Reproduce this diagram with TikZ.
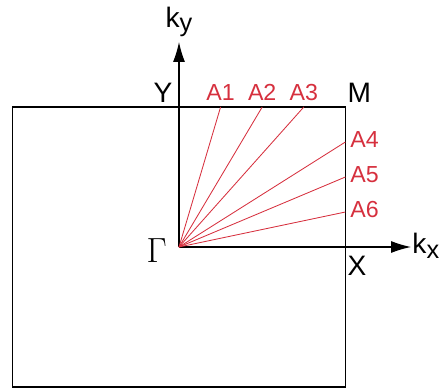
\documentclass[tikz,border=0pt]{standalone}
\usepackage{fontspec}
\setmainfont{Liberation Sans}
\usetikzlibrary{arrows.meta,positioning}
\definecolor{pathred}{RGB}{214,48,62}
\newcommand{\kvec}[1]{k\raisebox{-0.15em}{\fontsize{18}{20}\selectfont #1}}

\begin{document}
\begin{tikzpicture}[
    >={Latex[length=5mm,width=3mm]},
    font=\fontsize{20}{24}\selectfont,
    zone/.style={draw=black,line width=0.8pt},
    axis/.style={->,line width=0.8pt,color=black},
    kpath/.style={draw=pathred,line width=0.6pt},
    lbl/.style={inner sep=0pt},
    redlbl/.style={inner sep=0pt,text=pathred,font=\fontsize{16.5}{19}\selectfont}
  ]
    \useasboundingbox (-4.475,-3.55) rectangle (6.725,6.175);

    % zone boundary
    \draw[zone] (-4.16,-3.5) rectangle (4.16,3.5);

    % high-symmetry points
    \coordinate (G) at (0,0);
    \coordinate (Y) at (0,3.5);
    \coordinate (X) at (4.16,0);
    \coordinate (M) at (4.16,3.5);

    % path end points
    \coordinate (a1) at (1.04,3.5);
    \coordinate (a2) at (2.08,3.5);
    \coordinate (a3) at (3.12,3.5);
    \coordinate (a4) at (4.16,2.625);
    \coordinate (a5) at (4.16,1.75);
    \coordinate (a6) at (4.16,0.875);

    % axes
    \coordinate (kxend) at (5.8,0);
    \coordinate (kyend) at (0,5.125);
    \draw[axis] (G) -- (kxend);
    \draw[axis] (G) -- (kyend);

    % paths from Gamma
    \draw[kpath] (G) -- (a1);
    \draw[kpath] (G) -- (a2);
    \draw[kpath] (G) -- (a3);
    \draw[kpath] (G) -- (a4);
    \draw[kpath] (G) -- (a5);
    \draw[kpath] (G) -- (a6);

    % labels
    \node[lbl,above=1.3mm of kyend] (kylbl) {\kvec{y}};
    \node[lbl,right=0.3mm of kxend,yshift=0.3mm] (kxlbl) {\kvec{x}};
    \node[lbl,left=3mm of G,yshift=-1mm,font=\fontsize{23}{26}\selectfont] (Glbl) {$\Gamma$};
    \node[lbl,above left=1mm and 1.6mm of Y] (Ylbl) {Y};
    \node[lbl,above right=1mm and 0.5mm of M] (Mlbl) {M};
    \node[lbl,below right=2.2mm and 0.5mm of X] (Xlbl) {X};
    \node[redlbl,above=1.5mm of a1] (A1) {A1};
    \node[redlbl,above=1.5mm of a2] (A2) {A2};
    \node[redlbl,above=1.5mm of a3] (A3) {A3};
    \node[redlbl,right=1.2mm of a4,yshift=0.5mm] (A4) {A4};
    \node[redlbl,right=1.2mm of a5,yshift=0.5mm] (A5) {A5};
    \node[redlbl,right=1.2mm of a6,yshift=0.5mm] (A6) {A6};
  \end{tikzpicture}
\end{document}
